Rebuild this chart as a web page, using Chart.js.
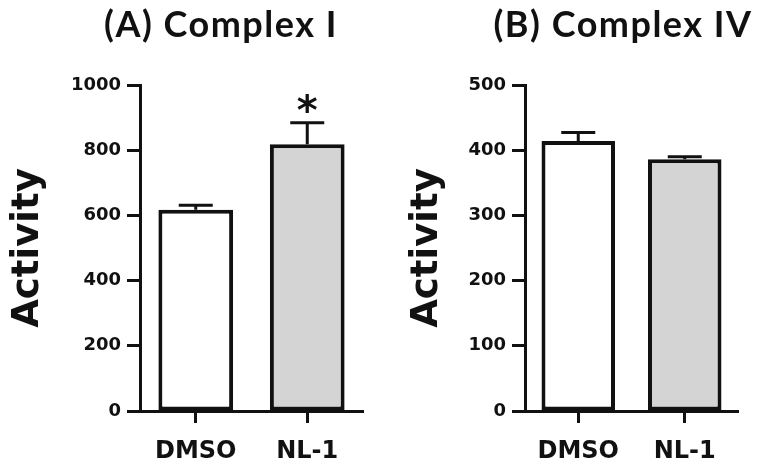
<!DOCTYPE html>
<html>
<head>
<meta charset="utf-8">
<script src="https://cdn.jsdelivr.net/npm/chart.js@4.4.1/dist/chart.umd.min.js"></script>
<style>
  body { margin: 0; background: #fff; }
  .panel { position: absolute; top: 0; height: 470px; }
  #panelA { left: 0; width: 380px; }
  #panelB { left: 380px; width: 377px; }
</style>
</head>
<body>
<div class="panel" id="panelA"><canvas id="chartA"></canvas></div>
<div class="panel" id="panelB"><canvas id="chartB"></canvas></div>
<script>
// values (mean, upper SEM)
const groups = ['DMSO', 'NL-1']
const barColors = ['#ffffff', '#d4d4d4']

const complexIMean = [617, 818]
const complexIErr = [14, 66]
const complexIMarks = ['', '*']
const complexIAxis = [0, 1000, 200]   // min, max, step

const complexIVMean = [414, 386]
const complexIVErr = [13, 4]
const complexIVMarks = ['', '']
const complexIVAxis = [0, 500, 100]

const ink = '#111'

// upper-only error bars + significance star, drawn from the data through the y scale
const errorBars = {
  id: 'errorBars',
  afterDatasetsDraw(chart, args, opts) {
    const ctx = chart.ctx
    const yScale = chart.scales.y
    const values = chart.data.datasets[0].data
    const meta = chart.getDatasetMeta(0)
    ctx.save()
    ctx.strokeStyle = ink
    ctx.lineWidth = 3
    meta.data.forEach((bar, i) => {
      const top = yScale.getPixelForValue(values[i] + opts.errors[i])
      ctx.beginPath()
      ctx.moveTo(bar.x, bar.y)
      ctx.lineTo(bar.x, top)
      ctx.moveTo(bar.x - 17, top)
      ctx.lineTo(bar.x + 17, top)
      ctx.stroke()
      if (opts.marks[i]) {
        ctx.fillStyle = ink
        ctx.font = 'bold 40px "DejaVu Sans"'
        ctx.textAlign = 'center'
        ctx.textBaseline = 'alphabetic'
        ctx.fillText(opts.marks[i], bar.x, top + 1)
      }
    })
    ctx.restore()
  }
}

// panel heading "(A) Complex I" etc.
const panelTitle = {
  id: 'panelTitle',
  afterDraw(chart, args, opts) {
    const ctx = chart.ctx
    ctx.save()
    ctx.font = 'bold 36px Lato'
    ctx.letterSpacing = '1.5px'
    ctx.fillStyle = ink
    ctx.textAlign = 'center'
    ctx.textBaseline = 'middle'
    ctx.fillText(opts.text, opts.x, opts.y)
    ctx.restore()
  }
}

function buildPanel(canvasId, p) {
  return new Chart(document.getElementById(canvasId), {
    type: 'bar',
    data: {
      labels: groups,
      datasets: [{
        data: p.means,
        backgroundColor: barColors,
        borderColor: ink,
        borderWidth: 4,
        borderSkipped: false,
        categoryPercentage: 1,
        barPercentage: p.barPct
      }]
    },
    plugins: [errorBars, panelTitle],
    options: {
      responsive: true,
      maintainAspectRatio: false,
      animation: false,
      layout: { padding: { top: 85, right: p.padRight, left: 0, bottom: 0 } },
      plugins: {
        legend: { display: false },
        tooltip: { enabled: false },
        errorBars: { errors: p.errors, marks: p.marks },
        panelTitle: { text: p.title, x: p.titleX, y: 25 }
      },
      scales: {
        x: {
          afterFit(scale) { scale.height = 59 },
          border: { display: true, color: ink, width: 3 },
          grid: {
            offset: false,
            drawOnChartArea: false,
            drawTicks: true,
            tickLength: 12,
            tickWidth: 3,
            tickColor: ink
          },
          ticks: {
            color: ink,
            padding: 14,
            font: { family: 'DejaVu Sans', weight: 'bold', size: 24 }
          }
        },
        y: {
          min: p.axis[0],
          max: p.axis[1],
          afterFit(scale) { scale.width = p.axisWidth },
          border: { display: true, color: ink, width: 3 },
          grid: {
            drawOnChartArea: false,
            drawTicks: true,
            tickLength: 13,
            tickWidth: 3,
            tickColor: ink
          },
          ticks: {
            stepSize: p.axis[2],
            color: ink,
            padding: 6,
            callback: v => String(v),
            font: { family: 'DejaVu Sans', weight: 'bold', size: 18 }
          },
          title: {
            display: true,
            text: 'Activity',
            color: ink,
            padding: { top: p.titlePad, bottom: 0 },
            font: { family: 'DejaVu Sans', weight: 'bold', size: 37, lineHeight: 1 }
          }
        }
      }
    }
  })
}

buildPanel('chartA', {
  title: '(A) Complex I', titleX: 221,
  means: complexIMean, errors: complexIErr, marks: complexIMarks, axis: complexIAxis,
  axisWidth: 140, titlePad: 9.5, padRight: 17, barPct: 0.67
})

buildPanel('chartB', {
  title: '(B) Complex IV', titleX: 623 - 380,
  means: complexIVMean, errors: complexIVErr, marks: complexIVMarks, axis: complexIVAxis,
  axisWidth: 145, titlePad: 28.5, padRight: 19, barPct: 0.69
})
</script>
</body>
</html>
